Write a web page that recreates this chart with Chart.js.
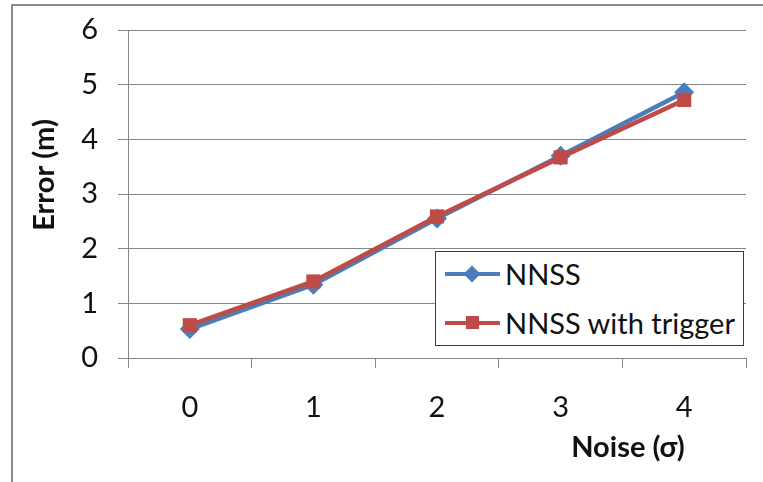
<!DOCTYPE html>
<html>
<head>
<meta charset="utf-8">
<script src="https://cdn.jsdelivr.net/npm/chart.js@4.4.1/dist/chart.umd.min.js"></script>
<style>
    body { margin: 0; background: #fff; }
    #wrap { position: relative; width: 763px; height: 482px; }
    #legend {
        position: absolute; left: 435px; top: 251px; width: 309px; height: 95px;
        box-sizing: border-box; border: 1.5px solid #3c3c3c; background: #fff;
        font-family: Lato, sans-serif; font-size: 29px; color: #111;
    }
    .row { position: absolute; left: 0; height: 40px; width: 100%; }
    .row .line { position: absolute; left: 9px; top: 18px; width: 55px; height: 4px; }
    .row .mark { position: absolute; }
    .row .txt { position: absolute; left: 69px; top: 2px; line-height: 36px; }
</style>
</head>
<body>
<div id="wrap">
    <canvas id="chart" width="763" height="482"></canvas>
    <div id="legend"></div>
</div>
<script>
const noiseLevels = ['0', '1', '2', '3', '4'];
const nnssError = [0.53, 1.34, 2.55, 3.7, 4.86];
const triggerError = [0.6, 1.4, 2.59, 3.67, 4.72];
const yMin = 0, yMax = 6, yStep = 1;

const blue = '#4a7ebb';
const red = '#be4b48';
const gridGray = '#868686';
const fontFamily = 'Lato, sans-serif';

// frame + axis titles (titles placed like the original, not centred)
const decorations = {
    id: 'decorations',
    beforeDraw(chart) {
        const ctx = chart.ctx;
        ctx.save();
        ctx.strokeStyle = '#8a8a8a';
        ctx.lineWidth = 2;
        ctx.beginPath();
        ctx.moveTo(12, 482);
        ctx.lineTo(12, 5);
        ctx.lineTo(763, 5);
        ctx.stroke();
        ctx.restore();
    },
    afterDraw(chart) {
        const ctx = chart.ctx;
        const area = chart.chartArea;
        ctx.save();
        ctx.fillStyle = '#111';
        ctx.font = 'bold 29px ' + fontFamily;
        ctx.textAlign = 'center';
        ctx.textBaseline = 'middle';
        ctx.translate(area.left - 83, area.top + 145);
        ctx.rotate(-Math.PI / 2);
        ctx.fillText('Error (m)', 0, 0);
        ctx.restore();

        ctx.save();
        ctx.fillStyle = '#111';
        ctx.font = 'bold 29px ' + fontFamily;
        ctx.textAlign = 'center';
        ctx.textBaseline = 'middle';
        ctx.fillText('Noise (σ)', area.right - 118, area.bottom + 90);
        ctx.restore();
    }
};

const chart = new Chart(document.getElementById('chart'), {
    type: 'line',
    data: {
        labels: noiseLevels,
        datasets: [
            {
                label: 'NNSS',
                data: nnssError,
                borderColor: blue,
                backgroundColor: blue,
                borderWidth: 4.5,
                pointStyle: 'rectRot',
                pointRadius: 10,
                pointBorderWidth: 0,
                order: 1
            },
            {
                label: 'NNSS with trigger',
                data: triggerError,
                borderColor: red,
                backgroundColor: red,
                borderWidth: 4.5,
                pointStyle: 'rect',
                pointRadius: 10,
                pointBorderWidth: 0,
                order: 0
            }
        ]
    },
    options: {
        responsive: false,
        animation: false,
        layout: { padding: { top: 30, right: 17, bottom: 0, left: 0 } },
        plugins: {
            legend: { display: false },
            tooltip: { enabled: false }
        },
        scales: {
            x: {
                offset: true,
                grid: {
                    offset: true,
                    drawOnChartArea: false,
                    drawTicks: true,
                    tickLength: 10,
                    color: gridGray
                },
                border: { color: gridGray, width: 1 },
                ticks: {
                    font: { family: fontFamily, size: 29 },
                    color: '#111',
                    padding: 22
                },
                afterFit: s => { s.height = 124; }
            },
            y: {
                min: yMin,
                max: yMax,
                grid: {
                    color: gridGray,
                    tickLength: 10
                },
                border: { color: gridGray, width: 1 },
                ticks: {
                    stepSize: yStep,
                    font: { family: fontFamily, size: 29 },
                    color: '#111',
                    padding: 20
                },
                afterFit: s => {
                    s.width = 128;
                    s.paddingTop = 0;
                    s.paddingBottom = 0;
                }
            }
        }
    },
    plugins: [decorations]
});

// legend built from the datasets
function buildLegend() {
    const box = document.getElementById('legend');
    const tops = [2, 51];
    chart.data.datasets.forEach((ds, i) => {
        const row = document.createElement('div');
        row.className = 'row';
        row.style.top = tops[i] + 'px';

        const line = document.createElement('span');
        line.className = 'line';
        line.style.background = ds.borderColor;
        row.appendChild(line);

        const mark = document.createElement('span');
        mark.className = 'mark';
        mark.style.background = ds.borderColor;
        if (ds.pointStyle === 'rectRot') {
            mark.style.width = '12px'; mark.style.height = '12px';
            mark.style.left = '30px'; mark.style.top = '14px';
            mark.style.transform = 'rotate(45deg)';
        } else {
            mark.style.width = '13px'; mark.style.height = '13px';
            mark.style.left = '30px'; mark.style.top = '13px';
        }
        row.appendChild(mark);

        const txt = document.createElement('span');
        txt.className = 'txt';
        txt.textContent = ds.label;
        row.appendChild(txt);

        box.appendChild(row);
    });
}
buildLegend();
</script>
</body>
</html>
